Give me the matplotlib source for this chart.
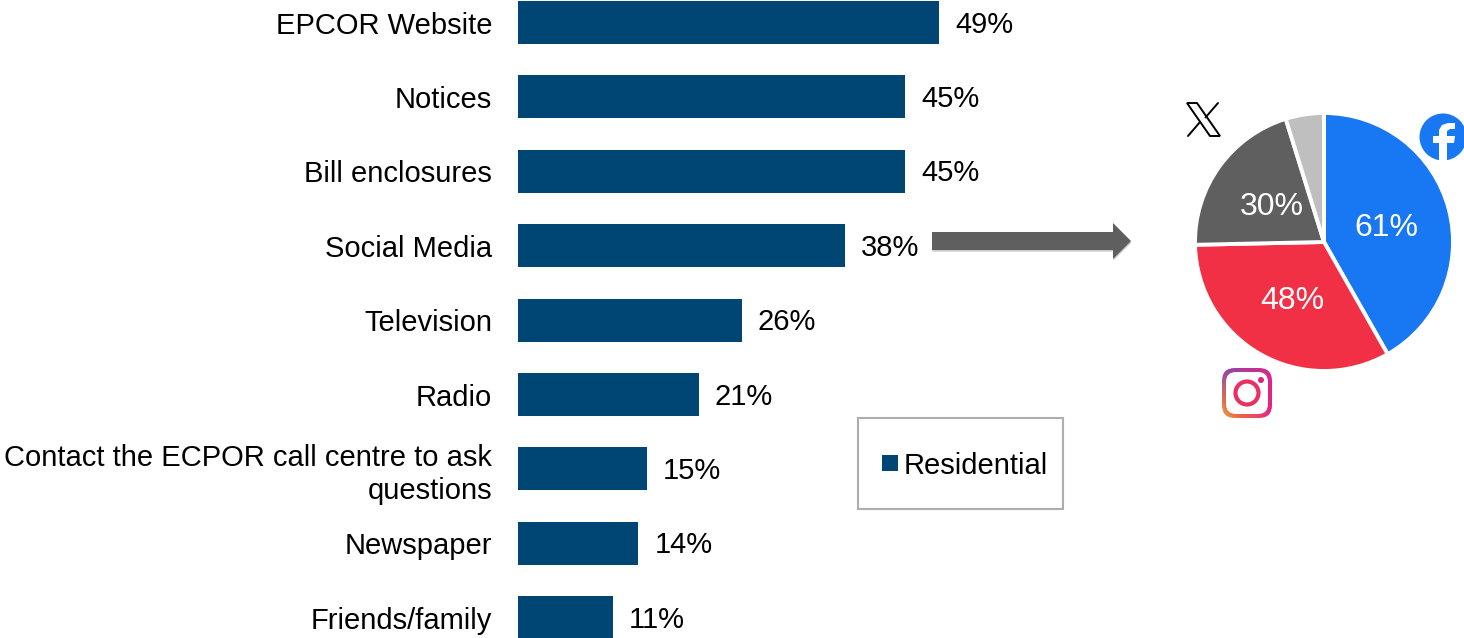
import numpy as np
import matplotlib
matplotlib.use("Agg")
import matplotlib.pyplot as plt
from matplotlib.patches import Circle, FancyBboxPatch, Polygon, Rectangle
import matplotlib.patheffects as pe

plt.rcParams["font.family"] = ["Liberation Sans", "DejaVu Sans"]

W, H = 1464, 638
FS = 20.95
PIE_FS = 23

channels = ["EPCOR Website", "Notices", "Bill enclosures", "Social Media", "Television",
            "Radio", "Contact the ECPOR call centre to ask\nquestions", "Newspaper", "Friends/family"]
residential = [49, 45, 45, 38, 26, 21, 15, 14, 11]
platform_shares = [61, 48, 30, 7]
platform_labels = ["61%", "48%", "30%", ""]

NAVY = "#004675"
GREY = "#5F5F5F"
platform_colors = ["#1877F2", "#F23045", GREY, "#BFBFBF"]

fig = plt.figure(figsize=(W / 100, H / 100), dpi=100, facecolor="white")


def px_axes(left, top, right, bottom, **kw):
    """Axes placed by pixel edges measured from the top-left of the figure."""
    return fig.add_axes([left / W, 1 - bottom / H, (right - left) / W, (bottom - top) / H], **kw)


# Horizontal bars
PX_PER_PCT = 8.6
ROW_PX = 74.4
FIRST_ROW_PX = 22.5
TOP_PX, BOTTOM_PX = -20, 660
ax = px_axes(518, TOP_PX, 1118, BOTTOM_PX)
ypos = np.arange(len(channels))
ax.barh(ypos, residential, height=0.578, color=NAVY)
ax.set_xlim(0, 600 / PX_PER_PCT)
ax.set_ylim((BOTTOM_PX - FIRST_ROW_PX) / ROW_PX, (TOP_PX - FIRST_ROW_PX) / ROW_PX)
ax.set_yticks(ypos, channels, fontsize=FS, color="black", linespacing=1.23)
ax.tick_params(axis="y", length=0, pad=18.5)
ax.xaxis.set_visible(False)
ax.patch.set_alpha(0)
for s in ax.spines.values():
    s.set_visible(False)
for y, v in zip(ypos, residential):
    ax.annotate(f"{v}%", (v, y), xytext=(11.5, -1.5), textcoords="offset points",
                va="center", ha="left", fontsize=FS, color="black",
                annotation_clip=False)

# Platform pie
pie_ax = px_axes(1195, 113, 1453, 371)
labels_iter = iter(platform_labels)
wedges, _, autotexts = pie_ax.pie(
    platform_shares, colors=platform_colors, startangle=90, counterclock=False,
    radius=1.0, autopct=lambda p: next(labels_iter), pctdistance=0.5,
    wedgeprops=dict(edgecolor="white", linewidth=2.8),
    textprops=dict(color="white", fontsize=PIE_FS))
for label in autotexts:
    x, y = label.get_position()
    label.set_position((x, y - 0.02))
pie_ax.set_xlim(-1, 1)
pie_ax.set_ylim(-1, 1)

# Overlay in pixel units for the callout arrow, legend box and logos
ov = fig.add_axes([0, 0, 1, 1], zorder=5)
ov.set_xlim(0, W)
ov.set_ylim(H, 0)
ov.axis("off")

# Callout arrow with a soft drop shadow
arrow = Polygon([(932, 232), (1113, 232), (1113, 223), (1131, 241), (1113, 259),
                 (1113, 250), (932, 250)], closed=True, facecolor=GREY, edgecolor="none",
                path_effects=[pe.SimplePatchShadow(offset=(0.3, -1.2), shadow_rgbFace="#999999", alpha=0.5),
                              pe.Normal()])
ov.add_patch(arrow)

# Legend
ov.add_patch(Rectangle((858, 418), 205, 91, facecolor="white", edgecolor="#AEAEAE", linewidth=1.5))
ov.add_patch(Rectangle((882, 455), 16, 16, facecolor=NAVY, edgecolor="none"))
ov.text(904, 462.5, "Residential", fontsize=FS, color="black", va="center_baseline", ha="left")

# X logo
ov.add_patch(Polygon([(1187, 103), (1197, 103), (1220, 136), (1210, 136)], closed=True,
                     facecolor="white", edgecolor="black", linewidth=1.4))
ov.plot([1218, 1205.5], [103, 117.5], color="black", lw=1.4, solid_capstyle="round")
ov.plot([1200, 1188], [122, 136], color="black", lw=1.4, solid_capstyle="round")

# Facebook logo, running off the right edge of the figure
FB = "#1877F2"
ov.add_patch(Circle((1443, 137), 23.5, facecolor=FB, edgecolor="none"))
ov.add_patch(Polygon([(1439, 161), (1439, 143), (1433, 143), (1433, 136), (1439, 136), (1439, 130),
                      (1442, 125), (1448, 123), (1455, 123), (1455, 129), (1450, 129), (1447, 131),
                      (1447, 136), (1455, 136), (1454, 143), (1447, 143), (1447, 161)],
                     closed=True, facecolor="white", edgecolor="none"))

# Instagram logo: corner colours blended across the square
bottom_left = np.array([0.97, 0.70, 0.15])
bottom_right = np.array([0.90, 0.12, 0.50])
top_left = np.array([0.52, 0.27, 0.68])
top_right = np.array([0.86, 0.15, 0.55])
n = 64
gx, gy = np.meshgrid(np.linspace(0, 1, n), np.linspace(0, 1, n))  # row 0 is the top
gx, gy = gx[..., None], gy[..., None]
grad = (top_left * (1 - gx) * (1 - gy) + top_right * gx * (1 - gy)
        + bottom_left * (1 - gx) * gy + bottom_right * gx * gy)
mid = np.array([0.93, 0.22, 0.32])
weight = np.exp(-(((gx - 0.4) ** 2 + (gy - 0.62) ** 2) / 0.12))
grad = grad * (1 - weight) + mid * weight
im = ov.imshow(grad, extent=(1222, 1272, 418, 368), aspect="auto", zorder=6, interpolation="bilinear")
outer = FancyBboxPatch((1222, 368), 50, 50, boxstyle="round,pad=0,rounding_size=13",
                       transform=ov.transData, facecolor="none", edgecolor="none")
ov.add_patch(outer)
im.set_clip_path(outer)
ov.add_patch(FancyBboxPatch((1226, 372), 42, 42, boxstyle="round,pad=0,rounding_size=10",
                            facecolor="white", edgecolor="none", zorder=7))
ov.add_patch(Circle((1247, 393), 11.5, facecolor="none", edgecolor="#EA3060", linewidth=3.0, zorder=8))
ov.add_patch(Circle((1261, 380), 3, facecolor="#D9237F", edgecolor="none", zorder=8))
ov.set_xlim(0, W)
ov.set_ylim(H, 0)

fig.savefig("out.png", dpi=100, facecolor="white")
